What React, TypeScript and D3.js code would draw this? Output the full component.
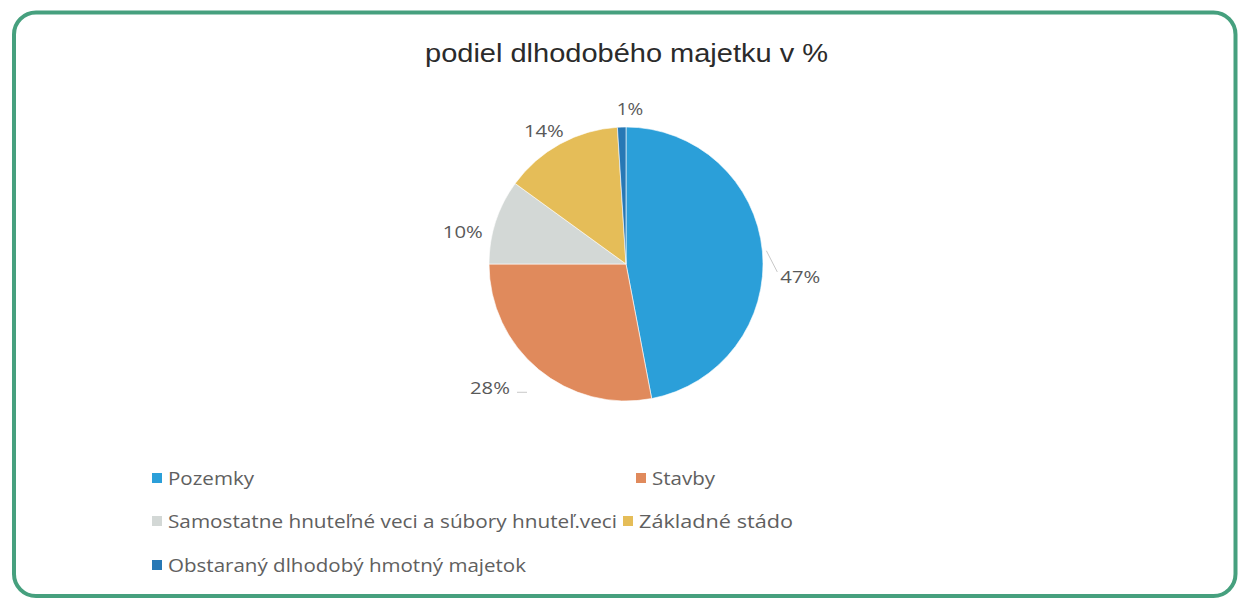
import React from "react";
import * as d3 from "d3";

const categories = [
  "Pozemky",
  "Stavby",
  "Samostatne hnuteľné veci a súbory hnuteľ.veci",
  "Základné stádo",
  "Obstaraný dlhodobý hmotný majetok",
];
const values = [47, 28, 10, 14, 1];
const valueLabels = ["47%", "28%", "10%", "14%", "1%"];
const colors = ["#2b9fd9", "#e08a5c", "#d3d8d6", "#e5bd58", "#2778b5"];
const titleText = "podiel dlhodobého majetku v %";

// label nudges (layout, not data)
const labelNudge: [number, number][] = [
  [15, 28],
  [-34, 1],
  [-11, 17],
  [-5, 7],
  [9, 5],
];

// legend layout
const legendPos: { x: number; y: number; w: number }[] = [
  { x: 152, y: 478, w: 86 },
  { x: 636, y: 478, w: 63 },
  { x: 152, y: 521, w: 449 },
  { x: 623, y: 521, w: 154 },
  { x: 152, y: 565, w: 358 },
];

export default function App() {
  const W = 1241;
  const H = 601;
  const cx = 626;
  const cy = 264;
  const r = 137;

  const pie = d3.pie<number>().sort(null).value((d) => d);
  const arcs = pie(values);
  const arcGen = d3.arc<d3.PieArcDatum<number>>().innerRadius(0).outerRadius(r);
  const labelArc = d3.arc<d3.PieArcDatum<number>>().innerRadius(160).outerRadius(160);

  const labels = arcs.map((a, i) => {
    const [x, y] = labelArc.centroid(a);
    return { x: cx + x + labelNudge[i][0], y: cy + y + labelNudge[i][1] };
  });

  const edge = (a: d3.PieArcDatum<number>, rr: number) => {
    const ang = (a.startAngle + a.endAngle) / 2;
    return [cx + rr * Math.sin(ang), cy - rr * Math.cos(ang)];
  };

  const e0 = edge(arcs[0], r + 4);

  return (
    <svg
      width={W}
      height={H}
      style={{ position: "absolute", left: 0, top: 0, background: "#ffffff" }}
    >
      <rect x={0} y={0} width={W} height={H} fill="#ffffff" />
      <rect
        x={14}
        y={12.5}
        width={1221.5}
        height={583.5}
        rx={22}
        ry={22}
        fill="none"
        stroke="#46a07e"
        strokeWidth={4}
      />
      <text
        x={626.5}
        y={62}
        textAnchor="middle"
        fontFamily="'Liberation Sans', Arial, sans-serif"
        fontSize={25}
        fill="#2b2b2b"
        textLength={403}
        lengthAdjust="spacingAndGlyphs"
      >
        {titleText}
      </text>
      <g>
        {arcs.map((a, i) => (
          <path
            key={i}
            d={arcGen(a) || ""}
            transform={`translate(${cx},${cy})`}
            fill={colors[i]}
            stroke="#ffffff"
            strokeWidth={0.6}
          />
        ))}
      </g>
      <line
        x1={e0[0]}
        y1={e0[1]}
        x2={labels[0].x - 23}
        y2={labels[0].y - 5}
        stroke="#c8c8c8"
        strokeWidth={1}
      />
      <line
        x1={labels[1].x + 27}
        y1={labels[1].y + 4}
        x2={labels[1].x + 37}
        y2={labels[1].y + 4}
        stroke="#c8c8c8"
        strokeWidth={1}
      />
      {labels.map((p, i) => (
        <text
          key={i}
          x={p.x}
          y={p.y}
          dy="0.36em"
          textAnchor="middle"
          fontFamily="'Open Sans', sans-serif"
          fontSize={17}
          fill="#595959"
          textLength={valueLabels[i].length * 13.3}
          lengthAdjust="spacingAndGlyphs"
        >
          {valueLabels[i]}
        </text>
      ))}
      <g>
        {categories.map((c, i) => {
          const lp = legendPos[i];
          return (
            <g key={i}>
              <rect x={lp.x} y={lp.y - 5} width={10} height={10} fill={colors[i]} />
              <text
                x={lp.x + 16}
                y={lp.y + 6.5}
                fontFamily="'Open Sans', sans-serif"
                fontSize={18}
                fill="#606060"
                textLength={lp.w}
                lengthAdjust="spacingAndGlyphs"
              >
                {c}
              </text>
            </g>
          );
        })}
      </g>
    </svg>
  );
}
